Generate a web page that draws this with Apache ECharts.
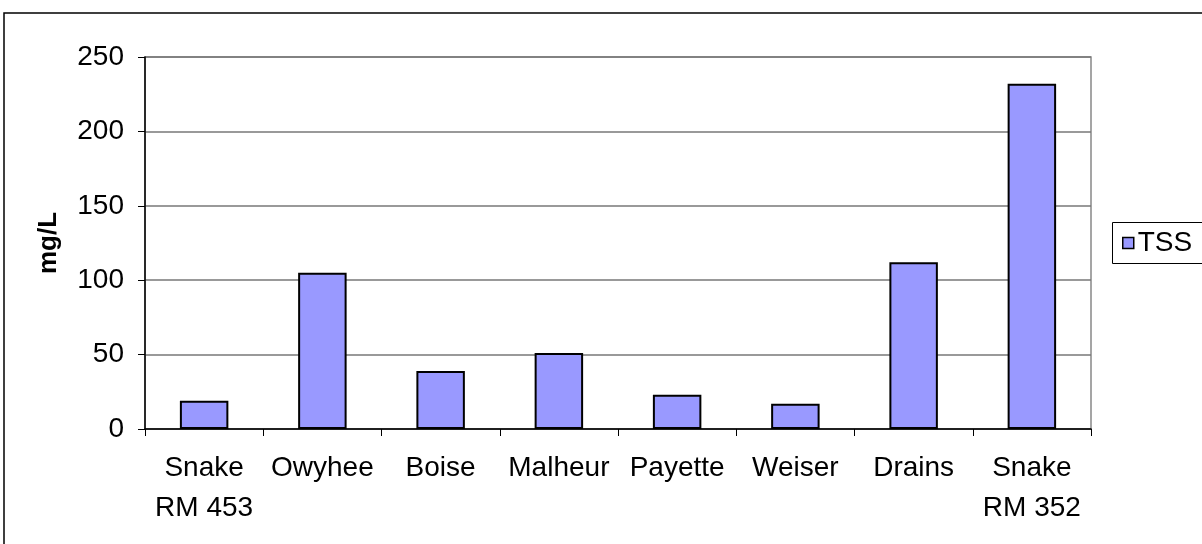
<!DOCTYPE html>
<html>
<head>
<meta charset="utf-8">
<script src="https://cdn.jsdelivr.net/npm/echarts@6/dist/echarts.min.js"></script>
<style>
  html, body { margin: 0; padding: 0; background: #fff; }
  #chart { width: 1202px; height: 544px; }
</style>
</head>
<body>
<div id="chart"></div>
<script>
let categories = ['Snake\nRM 453', 'Owyhee', 'Boise', 'Malheur', 'Payette', 'Weiser', 'Drains', 'Snake\nRM 352'];
let tssValues = [19, 105, 39, 51, 23, 17, 112, 232];
let yTicks = [0, 50, 100, 150, 200, 250];

let font = 'Liberation Sans, Arial, sans-serif';

let option = {
  animation: false,
  textStyle: { fontFamily: font },
  grid: {
    left: 145,
    right: 111,
    top: 57,
    bottom: 115,
    show: true,
    borderColor: '#888',
    borderWidth: 1.5,
    backgroundColor: '#fff'
  },
  graphic: [{
    type: 'rect',
    shape: { x: 4, y: 13, width: 1400, height: 700 },
    style: { fill: 'none', stroke: '#000', lineWidth: 1.5 },
    silent: true,
    z: -1
  }, {
    // legend frame runs off the right edge, like the original
    type: 'rect',
    shape: { x: 1112.5, y: 222.5, width: 200, height: 41 },
    style: { fill: 'none', stroke: '#000', lineWidth: 1 },
    silent: true
  }],
  legend: {
    data: ['TSS'],
    left: 1112,
    top: 222,
    orient: 'vertical',
    padding: [7, 0, 7, 10],
    itemWidth: 11,
    itemHeight: 11,
    itemGap: 0,
    icon: 'rect',
    itemStyle: { borderColor: '#000', borderWidth: 1.5 },
    textStyle: { fontSize: 28, color: '#000', fontFamily: font, padding: [0, 0, 0, -1] }
  },
  xAxis: {
    type: 'category',
    data: categories,
    boundaryGap: true,
    axisLine: { lineStyle: { color: '#000', width: 1.5 } },
    axisTick: { show: true, length: 7, inside: false, lineStyle: { color: '#000' } },
    axisLabel: {
      color: '#000',
      fontSize: 28,
      lineHeight: 40,
      margin: 19,
      interval: 0,
      fontFamily: font
    }
  },
  yAxis: {
    type: 'value',
    min: 0,
    max: 250,
    interval: 50,
    name: 'mg/L',
    nameLocation: 'middle',
    nameRotate: 90,
    nameGap: 83,
    nameTextStyle: { fontSize: 26, fontWeight: 'bold', color: '#000', fontFamily: font },
    axisLine: { show: true, lineStyle: { color: '#000', width: 1.5 } },
    axisTick: { show: true, length: 7, lineStyle: { color: '#000' } },
    axisLabel: {
      color: '#000',
      fontSize: 28,
      margin: 21,
      fontFamily: font,
      formatter: function(v) { return yTicks.indexOf(v) >= 0 ? String(v) : ''; }
    },
    splitLine: { show: true, lineStyle: { color: '#777', width: 1.5 } }
  },
  series: [{
    name: 'TSS',
    type: 'bar',
    data: tssValues,
    barWidth: '41%',
    itemStyle: { color: '#9999ff', borderColor: '#000', borderWidth: 2 }
  }]
};

let chart = echarts.init(document.getElementById('chart'));
chart.setOption(option);
</script>
</body>
</html>
